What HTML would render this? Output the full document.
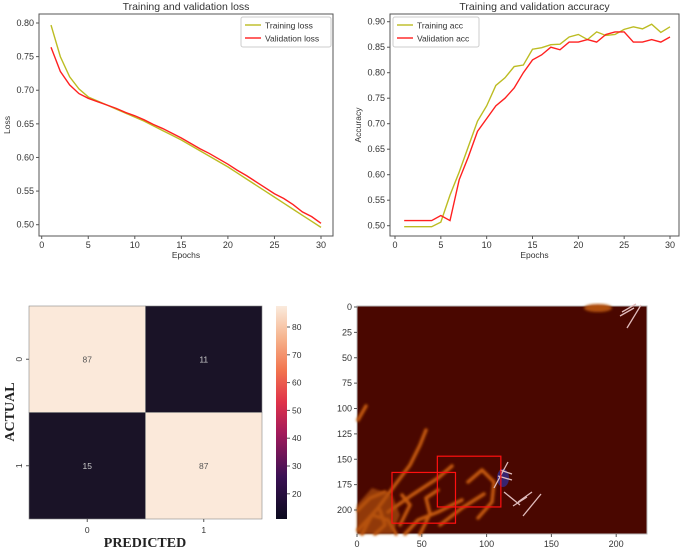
<!DOCTYPE html>
<html><head><meta charset="utf-8"><style>
body{margin:0;background:#fff;width:685px;height:550px;overflow:hidden;font-family:"Liberation Sans",sans-serif}
svg{position:absolute;left:0;top:0}
text{font-family:"Liberation Sans",sans-serif;fill:#333}
text.serif{font-family:"Liberation Serif",serif;fill:#222}
</style></head><body>
<svg id="s" width="685" height="550"></svg>
<script>
const epochs=[1,2,3,4,5,6,7,8,9,10,11,12,13,14,15,16,17,18,19,20,21,22,23,24,25,26,27,28,29,30];
const trainLoss=[0.797,0.75,0.72,0.702,0.69,0.684,0.678,0.672,0.666,0.660,0.654,0.647,0.640,0.633,0.626,0.618,0.610,0.602,0.594,0.586,0.577,0.568,0.559,0.550,0.541,0.532,0.523,0.514,0.505,0.496];
const valLoss=[0.764,0.728,0.708,0.695,0.688,0.683,0.678,0.673,0.667,0.662,0.656,0.649,0.643,0.636,0.629,0.621,0.613,0.606,0.598,0.590,0.581,0.573,0.564,0.555,0.546,0.539,0.530,0.519,0.512,0.502];
const trainAcc=[0.498,0.498,0.498,0.498,0.507,0.56,0.605,0.655,0.705,0.735,0.775,0.79,0.812,0.815,0.846,0.849,0.855,0.856,0.87,0.875,0.865,0.88,0.873,0.875,0.885,0.89,0.886,0.895,0.879,0.89];
const valAcc=[0.51,0.51,0.51,0.51,0.52,0.51,0.59,0.635,0.685,0.71,0.735,0.75,0.77,0.80,0.825,0.835,0.85,0.845,0.86,0.86,0.865,0.86,0.875,0.88,0.88,0.86,0.86,0.865,0.86,0.87];
const xTicks=[0,5,10,15,20,25,30];
const lossTicks=[0.50,0.55,0.60,0.65,0.70,0.75,0.80];
const accTicks=[0.50,0.55,0.60,0.65,0.70,0.75,0.80,0.85,0.90];
const cmValues=[[87,11],[15,87]];
const cbTicks=[20,30,40,50,60,70,80];
const imgXTicks=[0,50,100,150,200];
const imgYTicks=[0,25,50,75,100,125,150,175,200];
const boxes=[[27,163,76,213],[62,147,111,197]];

const S=document.getElementById('s');const NS='http://www.w3.org/2000/svg';
function el(t,a,p){const e=document.createElementNS(NS,t);for(const k in a)e.setAttribute(k,a[k]);(p||S).appendChild(e);return e;}
function txt(x,y,s,a,p){const e=el('text',Object.assign({x:x,y:y},a||{}),p);e.textContent=s;return e;}

function lineChart(o){
  const g=el('g',{});
  const X=v=>o.x0+(v-0)*(o.x30-o.x0)/30;
  const Y=v=>o.yb+(v-o.vb)*(o.yt-o.yb)/(o.vt-o.vb);
  el('rect',{x:o.L,y:o.T,width:o.R-o.L,height:o.B-o.T,fill:'#fff',stroke:'#555','stroke-width':1},g);
  xTicks.forEach(t=>{el('line',{x1:X(t),x2:X(t),y1:o.B,y2:o.B+3,stroke:'#555'},g);const e=txt(X(t),o.B+12,t,{'font-size':9,'text-anchor':'middle'},g);});
  o.yticks.forEach(t=>{el('line',{x1:o.L-3,x2:o.L,y1:Y(t),y2:Y(t),stroke:'#555'},g);const e=txt(o.L-5,Y(t)+3,t.toFixed(2),{'font-size':9,'text-anchor':'end'},g);});
  const tl=txt((o.L+o.R)/2,10,o.title,{'font-size':10.5,'text-anchor':'middle'},g);
  const xl=txt((o.L+o.R)/2,o.B+22,'Epochs',{'font-size':8.5,'text-anchor':'middle'},g);
  const yl=txt(0,0,o.ylab,{'font-size':8.5,'text-anchor':'middle',transform:`translate(${o.L-29},${(o.T+o.B)/2}) rotate(-90)`},g);
  o.series.forEach(s=>{const p=el('polyline',{points:epochs.map((e,i)=>X(e)+','+Y(s.d[i])).join(' '),fill:'none',stroke:s.c,'stroke-width':1.4},g);});
  const lg=el('g',{},g);
  el('rect',{x:o.lx,y:17,width:o.lw,height:30,fill:'#fff',stroke:'#ccc',rx:2},lg);
  o.series.forEach((s,i)=>{el('line',{x1:o.lx+4,x2:o.lx+20,y1:25+i*13,y2:25+i*13,stroke:s.c,'stroke-width':1.4},lg);txt(o.lx+24,28.5+i*13,s.label,{'font-size':8.5},lg);});
}
lineChart({name:'loss-chart',L:39,R:333,T:14,B:236,x0:41.7,x30:321,yb:224.7,vb:0.5,yt:23,vt:0.8,yticks:lossTicks,title:'Training and validation loss',ylab:'Loss',lx:241,lw:90,
 series:[{d:trainLoss,c:'#bcbc22',n:'training-loss-line',label:'Training loss'},{d:valLoss,c:'#ff2020',n:'validation-loss-line',label:'Validation loss'}]});
lineChart({name:'accuracy-chart',L:390,R:679,T:14,B:236,x0:395,x30:670,yb:225.7,vb:0.5,yt:21.7,vt:0.9,yticks:accTicks,title:'Training and validation accuracy',ylab:'Accuracy',lx:393,lw:86,
 series:[{d:trainAcc,c:'#bcbc22',n:'training-acc-line',label:'Training acc'},{d:valAcc,c:'#ff2020',n:'validation-acc-line',label:'Validation acc'}]});

// confusion matrix
const cmg=el('g',{});
const cmL=29,cmT=306,cw=116.5,ch=106.5;
function cmColor(v){const t=(v-11)/(87-11);return t>0.5?'#fbe9da':'#1a1327';}
cmValues.forEach((r,i)=>r.forEach((v,j)=>{const c=el('rect',{x:cmL+j*cw,y:cmT+i*ch,width:cw,height:ch,fill:cmColor(v),stroke:'#888','stroke-width':0.6},cmg);
 txt(cmL+j*cw+cw/2,cmT+i*ch+ch/2+3,v,{'font-size':8.5,'text-anchor':'middle',style:'fill:'+(v>50?'#555':'#ccc')},cmg);}));
[0,1].forEach(k=>{el('line',{x1:cmL+k*cw+cw/2,x2:cmL+k*cw+cw/2,y1:cmT+2*ch,y2:cmT+2*ch+3,stroke:'#555'},cmg);txt(cmL+k*cw+cw/2,cmT+2*ch+14,k,{'font-size':8.5,'text-anchor':'middle'},cmg);
 el('line',{x1:cmL-3,x2:cmL,y1:cmT+k*ch+ch/2,y2:cmT+k*ch+ch/2,stroke:'#555'},cmg);txt(0,0,k,{'font-size':8.5,'text-anchor':'middle',transform:`translate(${cmL-7},${cmT+k*ch+ch/2}) rotate(-90)`},cmg);});
const px=txt(145,547,'PREDICTED',{'font-size':14,'font-weight':'bold','text-anchor':'middle','class':'serif'},cmg);
const ay=txt(0,0,'ACTUAL',{'font-size':14,'font-weight':'bold','text-anchor':'middle','class':'serif',transform:'translate(14,412) rotate(-90)'},cmg);
const defs=el('defs',{});const gr=el('linearGradient',{id:'cb',x1:0,y1:1,x2:0,y2:0},defs);
[['0','#0b0a1e'],['0.2','#3b1154'],['0.4','#a11a5b'],['0.55','#e0334a'],['0.7','#f2754f'],['0.85','#f6b48e'],['1','#faebdd']].forEach(s=>el('stop',{offset:s[0],'stop-color':s[1]},gr));
const fb=el('filter',{id:'blur',x:'-20%',y:'-20%',width:'140%',height:'140%'},defs);el('feGaussianBlur',{stdDeviation:1.2},fb);
const cb=el('rect',{x:276,y:306,width:11,height:213,fill:'url(#cb)'},cmg);
const CBY=v=>327+(80-v)*2.78;
cbTicks.forEach(t=>{el('line',{x1:287,x2:290,y1:CBY(t),y2:CBY(t),stroke:'#555'},cmg);txt(292,CBY(t)+3,t,{'font-size':8.5},cmg);});

// image panel
const ig=el('g',{});
const IX=v=>357+v*1.296,IY=v=>307+v*1.015;
el('rect',{x:357,y:306,width:290,height:228,fill:'#4a0700',stroke:'#bbb'},ig);
const og=el('g',{filter:'url(#blur)',fill:'none',stroke:'#c65a0a','stroke-width':3.5,'stroke-linecap':'round','stroke-linejoin':'round'},ig);
['M358,530 L378,508 L395,485 L410,465 L420,445 L426,430','M388,512 L412,495 L438,478 L452,466','M358,510 L370,498 L385,492','M362,534 L372,515 L388,520 L396,534','M405,534 L418,520 L438,512 L462,500','M440,525 L462,508 L484,494','M468,482 L482,470 L494,482 L492,502 L478,518','M358,420 L366,406','M420,534 L430,514 L426,498 L438,490','M375,534 L385,525 L380,510','M400,525 L410,505 L402,495'].forEach(d=>el('path',{d:d},og));
el('path',{d:'M357,505 L372,488 L392,495 L400,515 L392,534 L357,534 Z',fill:'#b0500a',stroke:'none',opacity:0.7,filter:'url(#blur)'},ig);
el('ellipse',{cx:598,cy:308,rx:14,ry:4,fill:'#b0500a',filter:'url(#blur)'},ig);
el('ellipse',{cx:503,cy:478,rx:6,ry:9,fill:'#3030a0',opacity:0.7},ig);
[['M494,488 L508,462','M498,476 L512,480','M500,470 L512,474'],['M523,516 L541,494','M513,506 L527,497','M518,502 L532,492','M504,492 L520,505'],['M627,328 L641,305','M620,316 L634,308','M622,312 L636,304']].forEach(a=>a.forEach(d=>el('path',{d:d,stroke:'#e0bcbc','stroke-width':1.3,fill:'none'},ig)));
boxes.forEach(b=>{const r=el('rect',{x:IX(b[0]),y:IY(b[1]),width:IX(b[2])-IX(b[0]),height:IY(b[3])-IY(b[1]),fill:'none',stroke:'#ff1010','stroke-width':1.2},ig);});
imgXTicks.forEach(t=>{el('line',{x1:IX(t),x2:IX(t),y1:534,y2:537,stroke:'#555'},ig);txt(IX(t),547,t,{'font-size':9,'text-anchor':'middle'},ig);});
imgYTicks.forEach(t=>{el('line',{x1:354,x2:357,y1:IY(t),y2:IY(t),stroke:'#555'},ig);txt(352,IY(t)+3,t,{'font-size':9,'text-anchor':'end'},ig);});
</script></body></html>
